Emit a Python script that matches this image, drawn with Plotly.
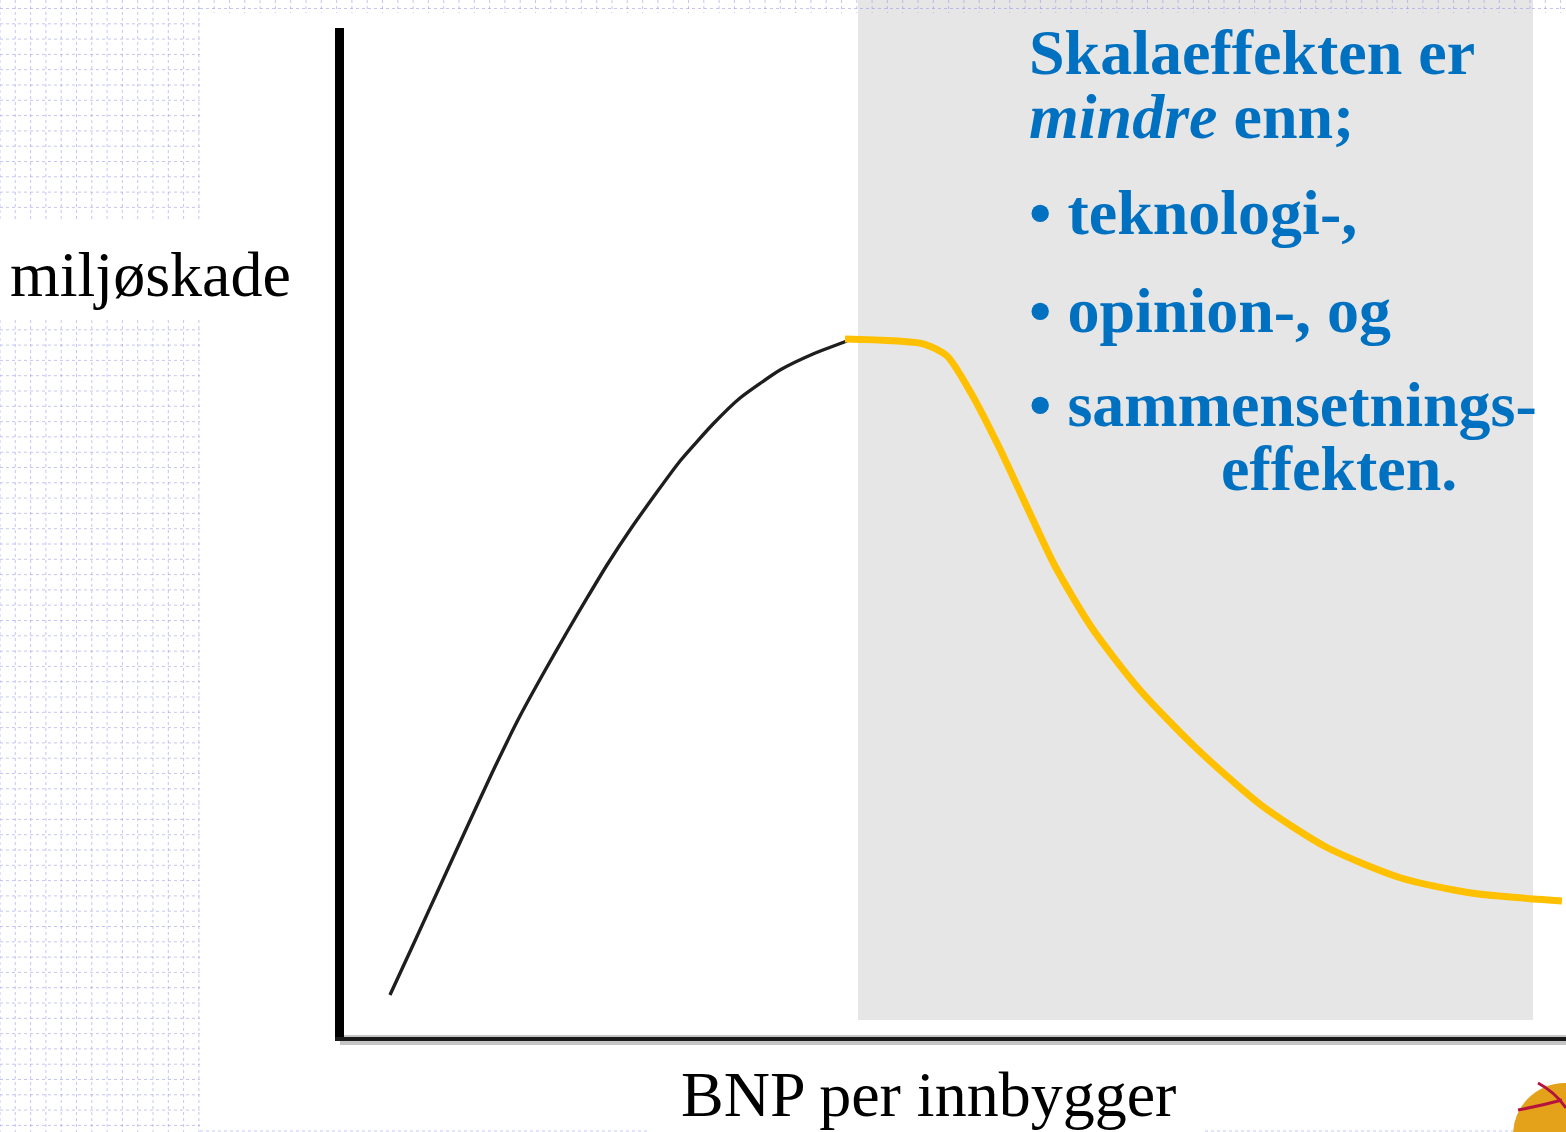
import plotly.graph_objects as go

# ---------------- data (arbitrary units, 0-100 on both axes) ----------------
# rising part: scale effect dominates (black)
rise_bnp = [3.76, 5.65, 7.86, 10.07, 12.19, 14.40, 16.61, 18.25, 19.89, 21.52,
            23.40, 25.61, 27.50, 30.20, 32.41, 35.68, 38.38, 41.16]
rise_dmg = [4.16, 9.12, 14.97, 20.81, 26.36, 31.81, 36.67, 40.14, 43.51, 46.78,
            50.25, 54.01, 57.09, 60.75, 63.33, 66.10, 67.69, 68.98]
# falling part: technology / opinion / composition effects dominate (yellow)
fall_bnp = [41.0, 47.46, 49.35, 51.31, 53.60, 55.89, 58.18, 61.21, 65.06, 69.64,
            75.04, 80.36, 86.50, 92.23, 99.67]
fall_dmg = [69.18, 68.68, 67.49, 63.83, 58.47, 52.53, 46.68, 40.53, 34.49, 28.74,
            22.99, 18.83, 15.76, 14.27, 13.48]

y_label = "miljøskade"
x_label = "BNP per innbygger"
text_lines = [
    "<b>Skalaeffekten er</b>",
    "<b><i>mindre</i> enn;</b>",
    "<b>• teknologi-,</b>",
    "<b>• opinion-, og</b>",
    "<b>• sammensetnings-</b>",
    "<b>effekten.</b>",
]

# ---------------- layout geometry ----------------
W, H = 1566, 1132
ML, MR, MT, MB = 344, 0, 28, 95
PW, PH = W - ML - MR, H - MT - MB


def px_x(px):
    return (px - ML) / PW


def px_y(py):
    return (H - MB - py) / PH


fig = go.Figure()

fig.add_trace(go.Scatter(
    x=rise_bnp, y=rise_dmg, mode="lines",
    line=dict(color="#1e1e1e", width=3.4, shape="spline", smoothing=0.5),
    hoverinfo="skip", showlegend=False, cliponaxis=False,
))
fig.add_trace(go.Scatter(
    x=fall_bnp, y=fall_dmg, mode="lines",
    line=dict(color="#FFC000", width=7, shape="spline", smoothing=0.7),
    hoverinfo="skip", showlegend=False, cliponaxis=False,
))

shapes = []
# grey highlight panel
shapes.append(dict(type="rect", xref="paper", yref="paper", layer="below",
                   x0=px_x(858), x1=px_x(1533), y0=px_y(1020), y1=px_y(0),
                   fillcolor="#E6E6E6", line=dict(width=0)))

# background dotted grid of the slide template
step = 15.3
segs = []
k = 0
while k * step <= 200:
    x = k * step
    segs.append((x, 0, x, 222))
    segs.append((x, 320, x, H))
    k += 1
j = 0
while 8.5 + j * step < H:
    y = 8.5 + j * step
    if y < 222 or y > 320:
        segs.append((0, y, 200, y))
    j += 1
k = 14
while k * step < W:
    x = k * step
    segs.append((x, 0, x, 13))
    k += 1
segs.append((200, 8.5, W, 8.5))
segs.append((200, 1131, 650, 1131))
segs.append((1205, 1131, W, 1131))
path = " ".join("M%.5f,%.5f L%.5f,%.5f" % (px_x(a), px_y(b), px_x(c), px_y(d)) for a, b, c, d in segs)
shapes.append(dict(type="path", xref="paper", yref="paper", layer="below", path=path,
                   line=dict(color="rgba(150,150,235,0.55)", width=1, dash="dot")))

# x-axis shadow
shapes.append(dict(type="line", xref="paper", yref="paper", layer="below",
                   x0=px_x(340), x1=px_x(W), y0=px_y(1040), y1=px_y(1040),
                   line=dict(color="#c4c4c4", width=10)))

# small logo in the corner
shapes.append(dict(type="circle", xref="paper", yref="paper", layer="above",
                   x0=px_x(1513), x1=px_x(1617), y0=px_y(1187), y1=px_y(1083),
                   fillcolor="#E3A21A", line=dict(width=0)))
shapes.append(dict(type="path", xref="paper", yref="paper", layer="above",
                   path="M%.5f,%.5f Q%.5f,%.5f %.5f,%.5f" % (px_x(1538), px_y(1083), px_x(1555), px_y(1092), px_x(1566), px_y(1108)),
                   line=dict(color="#B5123E", width=3)))
shapes.append(dict(type="path", xref="paper", yref="paper", layer="above",
                   path="M%.5f,%.5f Q%.5f,%.5f %.5f,%.5f" % (px_x(1518), px_y(1110), px_x(1540), px_y(1106), px_x(1562), px_y(1100)),
                   line=dict(color="#B5123E", width=3)))

annotations = []
serif = "Liberation Serif, Times New Roman, serif"
annotations.append(dict(xref="paper", yref="paper", x=px_x(8), y=px_y(274),
                        xanchor="left", yanchor="middle", showarrow=False, text=y_label,
                        font=dict(family=serif, size=64, color="black")))
annotations.append(dict(xref="paper", yref="paper", x=px_x(928), y=px_y(1094),
                        xanchor="center", yanchor="middle", showarrow=False, text=x_label,
                        font=dict(family=serif, size=64, color="black")))

blue_pos = [(1027, 53), (1027, 116), (1027, 213), (1027, 310), (1027, 405), (1219, 468)]
for t, (px, py) in zip(text_lines, blue_pos):
    annotations.append(dict(xref="paper", yref="paper", x=px_x(px), y=px_y(py),
                            xanchor="left", yanchor="middle", showarrow=False, text=t,
                            font=dict(family=serif, size=64, color="#0070C0")))

fig.update_layout(
    width=W, height=H,
    margin=dict(l=ML, r=MR, t=MT, b=MB, pad=0),
    paper_bgcolor="white", plot_bgcolor="rgba(0,0,0,0)",
    shapes=shapes, annotations=annotations,
    xaxis=dict(range=[0, 100], showgrid=False, zeroline=False, showticklabels=False,
               ticks="", showline=True, linewidth=4, linecolor="#1a1a1a", fixedrange=True),
    yaxis=dict(range=[0, 100], showgrid=False, zeroline=False, showticklabels=False,
               ticks="", showline=True, linewidth=9, linecolor="black", fixedrange=True),
    showlegend=False,
)

fig.write_html("out.html", config={"displayModeBar": False},
               post_script="document.body.style.margin='0';document.body.style.overflow='hidden';")
